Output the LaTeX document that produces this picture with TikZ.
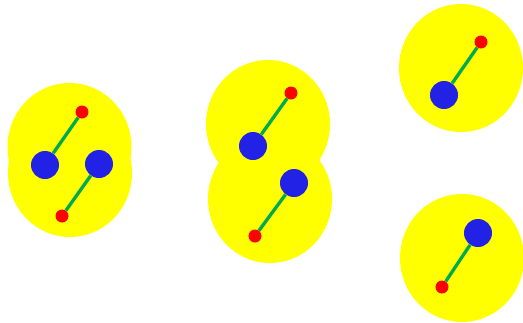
\documentclass[tikz,border=0pt]{standalone}
\usepackage{xcolor}
\usepackage{tikz}
\usetikzlibrary{shapes.geometric}
\definecolor{haloyellow}{RGB}{255, 255, 0}
\definecolor{atomblue}{RGB}{34, 34, 230}
\definecolor{atomred}{RGB}{255, 0, 0}
\definecolor{bondgreen}{RGB}{0, 170, 80}

\tikzset{
  halo/.style={ellipse, fill=haloyellow, minimum width=124pt, minimum height=128pt, inner sep=0pt},
  bigatom/.style={circle, fill=atomblue, minimum size=28pt, inner sep=0pt},
  smallatom/.style={circle, fill=atomred, minimum size=13pt, inner sep=0pt},
  bond/.style={bondgreen, line width=3.3pt}
}

\begin{document}
\begin{tikzpicture}[x=1pt, y=-1pt]
\useasboundingbox (0,0) rectangle (523,322);
% Yellow clouds
\node[halo] (haloA) at (69.5,147) {};
\node[halo] (haloB) at (70,173) {};
\node[halo] (haloC) at (268,124) {};
\node[halo] (haloD) at (270,199) {};
\node[halo] (haloE) at (461,68) {};
\node[halo] (haloF) at (462,258) {};

% Atoms
\node[bigatom] (blueA) at (45,165) {};
\node[smallatom] (redA) at (82,112) {};
\node[bigatom] (blueB) at (99,164) {};
\node[smallatom] (redB) at (62,216) {};
\node[bigatom] (blueC) at (253,146) {};
\node[smallatom] (redC) at (291,93) {};
\node[bigatom] (blueD) at (294,183) {};
\node[smallatom] (redD) at (255,236) {};
\node[bigatom] (blueE) at (444,95) {};
\node[smallatom] (redE) at (481,42) {};
\node[bigatom] (blueF) at (478,233) {};
\node[smallatom] (redF) at (442,287) {};

% Bonds
\draw[bond] (blueA) -- (redA);
\draw[bond] (blueB) -- (redB);
\draw[bond] (blueC) -- (redC);
\draw[bond] (blueD) -- (redD);
\draw[bond] (blueE) -- (redE);
\draw[bond] (blueF) -- (redF);
\end{tikzpicture}
\end{document}
